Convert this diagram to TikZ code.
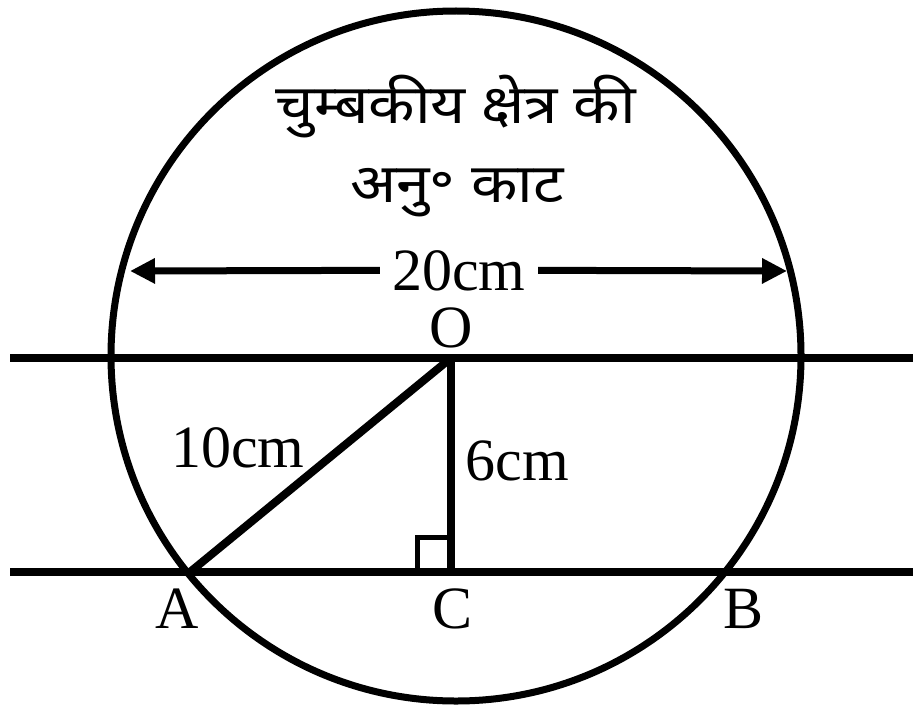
\documentclass[tikz,border=0pt]{standalone}
\usepackage{fontspec}
\setmainfont{Liberation Serif}
\newfontfamily\hindi[Script=Devanagari,FakeStretch=1.12]{Noto Sans}
\usetikzlibrary{arrows.meta}
\tikzset{
  thick line/.style={line width=4pt, line cap=butt},
  circ line/.style={line width=3.5pt},
  sqline/.style={line width=2.5pt},
  dimline/.style={line width=3.5pt, -{Triangle[length=12.5pt,width=12pt]}},
  lbl/.style={font=\fontsize{30}{36}\selectfont, inner sep=0pt, anchor=base},
  hlbl/.style={font=\hindi\fontsize{27}{32}\selectfont, inner sep=0pt, anchor=base},
}
\begin{document}
\begin{tikzpicture}[x=0.5pt,y=-0.5pt]
\useasboundingbox (0,0) rectangle (913,706);
% points
\coordinate (Ctr) at (456,356);
\coordinate (O) at (451,358);
\coordinate (A) at (190,572);
\coordinate (C) at (451,572);
\coordinate (L1l) at (10,358);
\coordinate (L1r) at (913,358);
\coordinate (L2l) at (10,572);
\coordinate (L2r) at (913,572);
\coordinate (dl) at (130,271);
\coordinate (dr) at (787,271);
% circle
\draw[circ line] (Ctr) circle [radius=345];
% parallel lines
\draw[thick line] (L1l) -- (L1r);
\draw[thick line] (L2l) -- (L2r);
% triangle
\draw[thick line, line join=miter] (A) -- (O);
\draw[thick line] (O) -- (C);
% right angle mark
\draw[sqline] (C) ++(-34,0) -- ++(0,-35) -- ++(34,0);
% dimension
\node[lbl, inner xsep=6pt] (t20) at (459,290) {20cm};
\draw[dimline] (t20.west) -- (dl);
\draw[dimline] (t20.east) -- (dr);
% labels
\node[lbl] (lO) at (451,347) {O};
\node[lbl] (l10) at (238,467) {10cm};
\node[lbl, anchor=base west] (l6) at (465,480) {6cm};
\node[lbl] (lA) at (177,628) {A};
\node[lbl] (lC) at (453,628) {C};
\node[lbl] (lB) at (743,628) {B};
% hindi title
\node[hlbl] (h1) at (456,123) {चुम्बकीय क्षेत्र की};
\node[hlbl] (h2) at (457,202) {अनु॰ काट};
\end{tikzpicture}
\end{document}
